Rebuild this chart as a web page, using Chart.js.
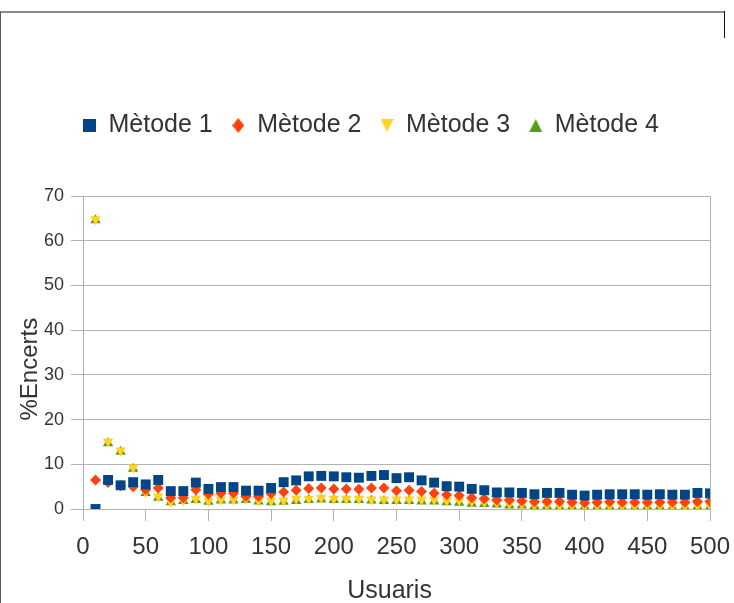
<!DOCTYPE html>
<html>
<head>
<meta charset="utf-8">
<script src="https://cdn.jsdelivr.net/npm/chart.js@4.4.1/dist/chart.umd.min.js"></script>
<style>
  html, body { margin: 0; padding: 0; background: #fff; }
  #wrap { position: relative; width: 734px; height: 603px; overflow: hidden; }
  #frame { position: absolute; left: 0; top: 11px; width: 724px; height: 600px;
           border-top: 2px solid #8c8c8c; border-left: 1px solid #555; }
  #edge { position: absolute; left: 724px; top: 11px; width: 1px; height: 27px; background: #111; }
  canvas { position: absolute; left: 0; top: 0; }
</style>
</head>
<body>
<div id="wrap">
  <div id="frame"></div>
  <div id="edge"></div>
  <canvas id="chart" width="734" height="603"></canvas>
</div>
<script>
// Number of users per run
const usuaris = [10, 20, 30, 40, 50, 60, 70, 80, 90, 100,
                 110, 120, 130, 140, 150, 160, 170, 180, 190, 200,
                 210, 220, 230, 240, 250, 260, 270, 280, 290, 300,
                 310, 320, 330, 340, 350, 360, 370, 380, 390, 400,
                 410, 420, 430, 440, 450, 460, 470, 480, 490, 500];

// Hit rate (%) for each method
const metode1 = [0, 6.5, 5.3, 6.0, 5.5, 6.5, 4.0, 4.0, 5.9, 4.5,
                 4.9, 4.9, 4.1, 4.1, 4.7, 6.0, 6.4, 7.3, 7.4, 7.3,
                 7.1, 7.0, 7.4, 7.6, 6.9, 7.1, 6.4, 5.9, 5.1, 5.0,
                 4.5, 4.2, 3.7, 3.7, 3.6, 3.3, 3.6, 3.6, 3.2, 3.0,
                 3.2, 3.3, 3.3, 3.3, 3.2, 3.3, 3.2, 3.2, 3.6, 3.5];
const metode2 = [6.5, 5.9, 5.2, 5.0, 4.3, 4.7, 2.5, 2.5, 4.3, 3.3,
                 3.5, 3.5, 2.8, 2.8, 3.4, 3.8, 4.2, 4.6, 4.7, 4.5,
                 4.5, 4.4, 4.7, 4.7, 4.1, 4.2, 3.9, 3.5, 3.2, 3.0,
                 2.5, 2.3, 2.0, 2.0, 1.8, 1.6, 1.7, 1.7, 1.5, 1.4,
                 1.5, 1.6, 1.5, 1.5, 1.5, 1.5, 1.5, 1.5, 1.7, 1.7];
const metode3 = [64.8, 15.1, 13.1, 9.3, 3.8, 2.8, 1.6, 2.0, 2.3, 1.8,
                 2.1, 2.1, 2.3, 1.9, 1.9, 1.9, 2.3, 2.3, 2.5, 2.3,
                 2.3, 2.3, 2.1, 2.1, 2.1, 2.1, 2.1, 2.1, 1.9, 1.9,
                 1.7, 1.5, 1.4, 1.2, 1.1, 0.9, 0.9, 0.8, 0.8, 0.7,
                 0.8, 0.8, 0.7, 0.7, 0.8, 0.8, 0.7, 0.7, 0.8, 0.8];
const metode4 = [64.6, 14.7, 12.8, 9.0, 3.6, 2.5, 1.5, 1.8, 2.0, 1.6,
                 1.9, 1.9, 2.0, 1.7, 1.5, 1.6, 1.8, 2.0, 2.1, 2.0,
                 2.0, 2.0, 1.9, 1.8, 1.8, 1.8, 1.7, 1.7, 1.5, 1.4,
                 1.2, 1.1, 1.0, 0.8, 0.8, 0.6, 0.6, 0.5, 0.5, 0.5,
                 0.5, 0.5, 0.4, 0.4, 0.5, 0.5, 0.4, 0.4, 0.5, 0.5];

const seriesNames = ['Mètode 1', 'Mètode 2', 'Mètode 3', 'Mètode 4'];
const xTicks = [0, 50, 100, 150, 200, 250, 300, 350, 400, 450, 500];
const yTicks = [0, 10, 20, 30, 40, 50, 60, 70];

const FONT = 'Liberation Sans, Arial, sans-serif';
const GRID = '#b3b3b3';
const TEXT = '#333333';
const COLORS = ['#004586', '#ff420e', '#ffd320', '#579d1c'];

// Small bitmap symbols for the legend keys
function symbol(kind, w, h, color) {
  const c = document.createElement('canvas');
  c.width = w; c.height = h;
  const g = c.getContext('2d');
  g.fillStyle = color;
  g.beginPath();
  if (kind === 'square') {
    g.rect(0, 0, w, h);
  } else if (kind === 'diamond') {
    g.moveTo(w / 2, 0); g.lineTo(w, h / 2); g.lineTo(w / 2, h); g.lineTo(0, h / 2);
  } else if (kind === 'down') {
    g.moveTo(0, 0); g.lineTo(w, 0); g.lineTo(w / 2, h);
  } else {
    g.moveTo(w / 2, 0); g.lineTo(w, h); g.lineTo(0, h);
  }
  g.closePath();
  g.fill();
  return c;
}
const legendSymbols = [
  symbol('square', 13, 13, COLORS[0]),
  symbol('diamond', 12, 15, COLORS[1]),
  symbol('down', 13, 13, COLORS[2]),
  symbol('up', 13, 13, COLORS[3])
];

const toPoints = vals => usuaris.map((u, i) => ({ x: u, y: vals[i] }));

const datasets = [
  { data: toPoints(metode1), pointStyle: 'rect',     pointRadius: 7,   pointRotation: 0 },
  { data: toPoints(metode2), pointStyle: 'rectRot',  pointRadius: 5.5, pointRotation: 0 },
  { data: toPoints(metode3), pointStyle: 'triangle', pointRadius: 6,   pointRotation: 180 },
  { data: toPoints(metode4), pointStyle: 'triangle', pointRadius: 6,   pointRotation: 0 }
].map((d, i) => ({
  label: seriesNames[i],
  data: d.data,
  showLine: false,
  pointStyle: d.pointStyle,
  pointRadius: d.pointRadius,
  pointHoverRadius: d.pointRadius,
  pointRotation: d.pointRotation,
  pointBackgroundColor: COLORS[i],
  pointBorderColor: COLORS[i],
  pointBorderWidth: 0,
  backgroundColor: COLORS[i],
  borderColor: COLORS[i]
}));

new Chart(document.getElementById('chart'), {
  type: 'scatter',
  data: { datasets },
  options: {
    responsive: false,
    animation: false,
    devicePixelRatio: 1,
    layout: { padding: { left: 32, right: 24, top: 94, bottom: 0 } },
    plugins: {
      legend: {
        position: 'top',
        labels: {
          usePointStyle: true,
          boxWidth: 13,
          boxHeight: 13,
          padding: 19,
          color: TEXT,
          font: { family: FONT, size: 25 },
          generateLabels: chart => chart.data.datasets.map((ds, i) => ({
            text: ds.label,
            fillStyle: COLORS[i],
            strokeStyle: COLORS[i],
            fontColor: TEXT,
            lineWidth: 0,
            pointStyle: legendSymbols[i],
            rotation: 0,
            hidden: false,
            datasetIndex: i
          }))
        }
      },
      // empty spacer between legend and plot
      subtitle: {
        display: true,
        text: '',
        weight: 500,
        font: { size: 10, lineHeight: 1 },
        padding: { top: 0, bottom: 38 }
      },
      tooltip: { enabled: false }
    },
    scales: {
      x: {
        type: 'linear',
        min: 0,
        max: 500,
        afterBuildTicks: s => { s.ticks = xTicks.map(v => ({ value: v })); },
        afterFit: s => { s.height = 94; s.paddingLeft = 0; s.paddingRight = 0; },
        grid: {
          color: c => (c.tick && c.tick.value === 500) ? GRID : 'rgba(0,0,0,0)',
          tickColor: GRID,
          tickLength: 12,
          lineWidth: 1
        },
        border: { color: GRID },
        ticks: { color: TEXT, font: { family: FONT, size: 24 }, padding: 12, maxRotation: 0 },
        title: {
          display: true,
          text: 'Usuaris  ',
          color: TEXT,
          font: { family: FONT, size: 25 },
          padding: { top: 0, bottom: -3 }
        }
      },
      y: {
        type: 'linear',
        min: 0,
        max: 70,
        afterBuildTicks: s => { s.ticks = yTicks.map(v => ({ value: v })); },
        afterFit: s => { s.width = 51; },
        grid: { color: GRID, tickColor: GRID, tickLength: 12, lineWidth: 1 },
        border: { color: GRID },
        ticks: { color: TEXT, font: { family: FONT, size: 18 }, padding: 7 },
        title: {
          display: true,
          text: '%Encerts     ',
          color: TEXT,
          font: { family: FONT, size: 24 },
          padding: { top: -16, bottom: 0 }
        }
      }
    }
  }
});
</script>
</body>
</html>
